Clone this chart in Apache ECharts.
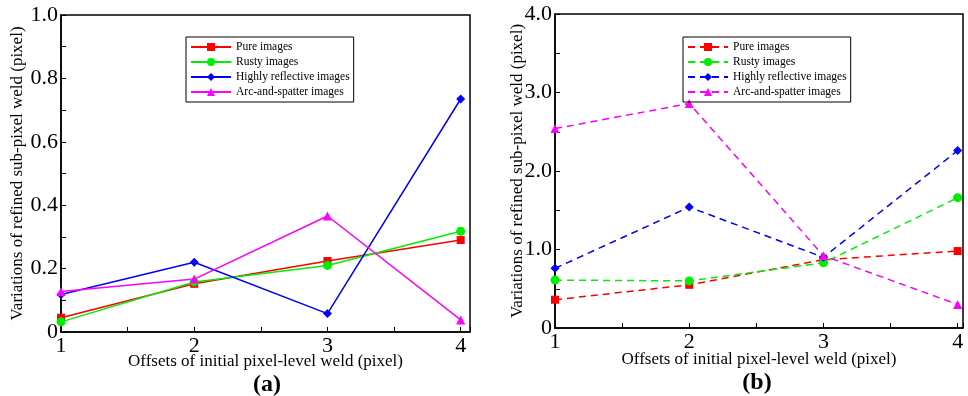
<!DOCTYPE html>
<html>
<head>
<meta charset="utf-8">
<script src="https://cdn.jsdelivr.net/npm/echarts@6/dist/echarts.min.js"></script>
<style>html,body{margin:0;padding:0;background:#fff;}#c{width:968px;height:396px;}</style>
</head>
<body>
<div id="c"></div>
<script>
var offsets = [1, 2, 3, 4];
var seriesNames = ['Pure images', 'Rusty images', 'Highly reflective images', 'Arc-and-spatter images'];
// chart (a)
var a_pure = [0.045, 0.152, 0.224, 0.290];
var a_rusty = [0.032, 0.158, 0.210, 0.318];
var a_reflective = [0.118, 0.220, 0.058, 0.735];
var a_arc = [0.128, 0.167, 0.366, 0.038];
// chart (b)
var b_pure = [0.36, 0.55, 0.87, 0.98];
var b_rusty = [0.61, 0.60, 0.83, 1.66];
var b_reflective = [0.76, 1.54, 0.90, 2.26];
var b_arc = [2.54, 2.86, 0.92, 0.30];

var colors = ['#ff0000', '#00ee00', '#0000ff', '#ff00ff'];
var symbols = ['rect', 'circle', 'diamond', 'triangle'];
var sizes = [8, 9, 9, 9];
var serif = 'Liberation Serif';

function pairs(vals) { return offsets.map(function (x, i) { return [x, vals[i]]; }); }

function mkSeries(dataArr, gi, dashed) {
  return dataArr.map(function (vals, i) {
    return {
      name: seriesNames[i], type: 'line', xAxisIndex: gi, yAxisIndex: gi,
      data: pairs(vals), symbol: symbols[i], symbolSize: sizes[i],
      itemStyle: { color: colors[i] },
      lineStyle: { color: colors[i], width: 1.5, type: dashed ? [7, 5] : 'solid' },
      animation: false
    };
  });
}

function xAxis(gi, max, gap) {
  return {
    type: 'value', gridIndex: gi, min: 1, max: max, interval: 0.5,
    name: 'Offsets of initial pixel-level weld (pixel)', nameLocation: 'middle', nameGap: gap,
    nameMoveOverlap: false,
    nameTextStyle: { fontFamily: serif, fontSize: 17, color: '#000' },
    axisLine: { lineStyle: { color: '#000', width: 1.5 } },
    axisTick: { inside: true, length: 5, lineStyle: { color: '#000' } },
    axisLabel: { fontFamily: serif, fontSize: 22, color: '#000', margin: 3,
      formatter: function (v) { return Math.abs(v - Math.round(v)) < 1e-6 ? String(Math.round(v)) : ''; } },
    splitLine: { show: false }
  };
}

function legend(left, dashed) {
  return { data: seriesNames.map(function(n){return {name:n};}), orient: 'vertical', left: left, top: 37, padding: [4, 4, 4, 4],
    borderColor: '#000', borderWidth: 1, itemWidth: 40, itemHeight: 10, itemGap: 3,
    lineStyle: dashed ? { type: [7, 5] } : {},
    textStyle: { fontFamily: serif, fontSize: 11.5, color: '#000' }, selectedMode: false };
}

var chart = echarts.init(document.getElementById('c'));
chart.setOption({
  backgroundColor: '#fff',
  animation: false,
  title: [
    { text: '(a)', left: 262, top: 368, textAlign: 'center', textStyle: { fontFamily: serif, fontSize: 24, fontWeight: 'bold', color: '#000' } },
    { text: '(b)', left: 752, top: 366, textAlign: 'center', textStyle: { fontFamily: serif, fontSize: 24, fontWeight: 'bold', color: '#000' } }
  ],
  grid: [
    { left: 61, top: 15, width: 409, height: 317, show: true, borderColor: '#000', borderWidth: 1.5, backgroundColor: 'transparent' },
    { left: 555, top: 14, width: 408, height: 314, show: true, borderColor: '#000', borderWidth: 1.5, backgroundColor: 'transparent' }
  ],
  legend: [legend(186, false), legend(683, true)],
  xAxis: [xAxis(0, 4.07, 21), xAxis(1, 4.04, 23)],
  yAxis: [
    { type: 'value', gridIndex: 0, min: 0, max: 1.0, interval: 0.1,
      name: 'Variations of refined sub-pixel weld (pixel)', nameLocation: 'middle', nameGap: 35,
      nameMoveOverlap: false,
      nameTextStyle: { fontFamily: serif, fontSize: 17, color: '#000' },
      axisLine: { lineStyle: { color: '#000', width: 1.5 } },
      axisTick: { inside: true, length: 5, lineStyle: { color: '#000' } },
      axisLabel: { fontFamily: serif, fontSize: 22, color: '#000', margin: 3,
        formatter: function (v) { var k = Math.round(v * 10); if (k % 2 !== 0) return ''; return k === 0 ? '0' : v.toFixed(1); } },
      splitLine: { show: false } },
    { type: 'value', gridIndex: 1, min: 0, max: 4.0, interval: 0.5,
      name: 'Variations of refined sub-pixel weld (pixel)', nameLocation: 'middle', nameGap: 29,
      nameMoveOverlap: false,
      nameTextStyle: { fontFamily: serif, fontSize: 17, color: '#000' },
      axisLine: { lineStyle: { color: '#000', width: 1.5 } },
      axisTick: { inside: true, length: 5, lineStyle: { color: '#000' } },
      axisLabel: { fontFamily: serif, fontSize: 22, color: '#000', margin: 3,
        formatter: function (v) { var k = Math.round(v * 2); if (k % 2 !== 0) return ''; return k === 0 ? '0' : v.toFixed(1); } },
      splitLine: { show: false } }
  ],
  series: mkSeries([a_pure, a_rusty, a_reflective, a_arc], 0, false)
    .concat(mkSeries([b_pure, b_rusty, b_reflective, b_arc], 1, true))
});
</script>
</body>
</html>
